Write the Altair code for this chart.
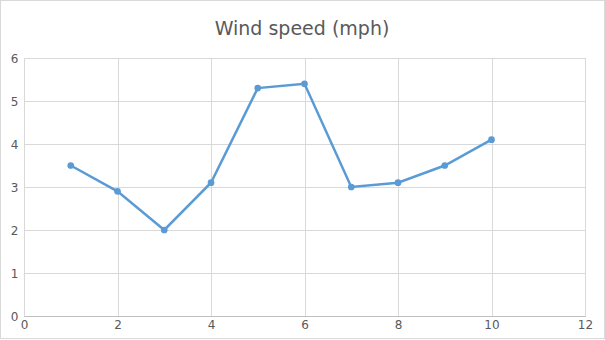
import altair as alt
import pandas as pd

x_vals = [1, 2, 3, 4, 5, 6, 7, 8, 9, 10]
wind = [3.5, 2.9, 2.0, 3.1, 5.3, 5.4, 3.0, 3.1, 3.5, 4.1]
title_text = "Wind speed (mph)"

df = pd.DataFrame({"x": x_vals, "y": wind})

FONT = "DejaVu Sans"
BLUE = "#5B9BD5"

xenc = alt.X("x:Q", scale=alt.Scale(domain=[0, 12], nice=False),
             axis=alt.Axis(values=[0, 2, 4, 6, 8, 10, 12], title=None, grid=True,
                           gridColor="#d9d9d9", domainColor="#bfbfbf", ticks=False,
                           labelColor="#595959", labelFontSize=12, labelFont=FONT,
                           labelPadding=3, labelFlush=False))
yenc = alt.Y("y:Q", scale=alt.Scale(domain=[0, 6], nice=False),
             axis=alt.Axis(values=[0, 1, 2, 3, 4, 5, 6], title=None, grid=True,
                           gridColor="#d9d9d9", domain=False, ticks=False,
                           labelColor="#595959", labelFontSize=12, labelFont=FONT,
                           labelPadding=6, labelFlush=False))

line = alt.Chart(df).mark_line(color=BLUE, strokeWidth=2.5).encode(x=xenc, y=yenc)
pts = alt.Chart(df).mark_point(color=BLUE, filled=True, opacity=1, size=45, shape="circle").encode(x="x:Q", y="y:Q")

border = alt.Chart(df).mark_rect(fill=None, stroke="#d9d9d9", strokeWidth=1).encode(
    x=alt.value(-23.5), x2=alt.value(580.5), y=alt.value(-57.5), y2=alt.value(280.5))

title = alt.Chart(pd.DataFrame({"t": [title_text]})).mark_text(
    font=FONT, fontSize=19, color="#595959", align="center", baseline="alphabetic"
).encode(text="t:N", x=alt.value(278), y=alt.value(-23))

chart = alt.layer(border, line, pts, title).properties(
    width=561, height=258,
    autosize=alt.AutoSizeParams(type="none"),
    padding={"left": 24, "top": 58, "right": 20, "bottom": 24},
).configure_view(stroke=None).configure(background="white")

chart.save("out.html", embed_options={"renderer": "svg", "actions": False})
